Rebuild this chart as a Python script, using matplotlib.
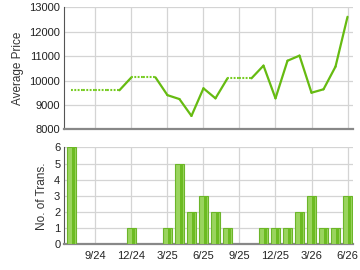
import numpy as np
import pandas as pd
import matplotlib
matplotlib.use("Agg")
import matplotlib.pyplot as plt

plt.rcParams['font.family'] = ['Liberation Sans', 'DejaVu Sans']

# monthly data, Jul 2024 .. Jun 2026
months = pd.period_range("2024-07", "2026-06", freq="M")
avg_price = [9600, None, None, None, None, 10130, None, None, 9400, 9240,
             8550, 9680, 9270, 10090, None, None, 10610, 9270, 10810, 11020,
             9500, 9640, 10570, 12610]
n_trans = [6, 0, 0, 0, 0, 1, 0, 0, 1, 5, 2, 3, 2, 1, 0, 0, 1, 1, 1, 2, 3, 1, 1, 3]
tick_labels = ["9/24", "12/24", "3/25", "6/25", "9/25", "12/25", "3/26", "6/26"]
tick_pos = [2, 5, 8, 11, 14, 17, 20, 23]

green = "#66bb11"
grid_c = "#d4d4d4"

fig = plt.figure(figsize=(3.6, 2.7), dpi=100)
ax1 = fig.add_axes([0.179, 0.521, 0.802, 0.452])
ax2 = fig.add_axes([0.179, 0.095, 0.802, 0.359])

x = np.arange(len(months))
price = pd.Series(avg_price, dtype=float)
filled = price.ffill()

# dotted where month has no price (carried forward), solid otherwise
for i in range(len(x) - 1):
    if np.isnan(price[i + 1]):
        ax1.plot(x[i:i + 2], filled[i:i + 2], color="#77cc22", lw=1.5,
                 dashes=(0.9, 0.7), zorder=3)
    else:
        ax1.plot(x[i:i + 2], filled[i:i + 2], color=green, lw=1.6,
                 solid_capstyle="round", zorder=3)

ax1.set_ylim(8000, 13000)
ax1.set_yticks(range(8000, 13001, 1000))
ax1.set_ylabel("Average Price", fontsize=8.5, color="#333333")

# bars with a simple two-tone shading (skip empty months)
w = 0.78
xb = x[np.array(n_trans) > 0]
nb = np.array(n_trans)[np.array(n_trans) > 0]
ax2.bar(xb, nb, width=w, color="#9ad45e", edgecolor="#6cb52a", linewidth=0.8, zorder=3)
ax2.bar(xb + w * 0.22, nb, width=w * 0.3, color="#6cbb22", linewidth=0, zorder=3)
ax2.set_ylim(0, 6)
ax2.set_yticks(range(0, 7))
ax2.set_ylabel("No. of Trans.", fontsize=8.5, color="#333333")

for ax in (ax1, ax2):
    ax.set_xlim(-0.58, 23.47)
    ax.set_xticks(tick_pos)
    ax.grid(True, color=grid_c, lw=0.9, zorder=0)
    ax.set_axisbelow(True)
    for s in ("top", "right"):
        ax.spines[s].set_visible(False)
    ax.spines["left"].set_color("#555555")
    ax.spines["bottom"].set_color("#888888")
    ax.spines["bottom"].set_linewidth(1.6)
    ax.tick_params(length=0, labelsize=8, colors="#222222", pad=3)

ax1.set_xticklabels([])
ax2.set_xticklabels(tick_labels)
ax2.tick_params(axis="x", pad=5)

fig.savefig("out.png", dpi=100)
